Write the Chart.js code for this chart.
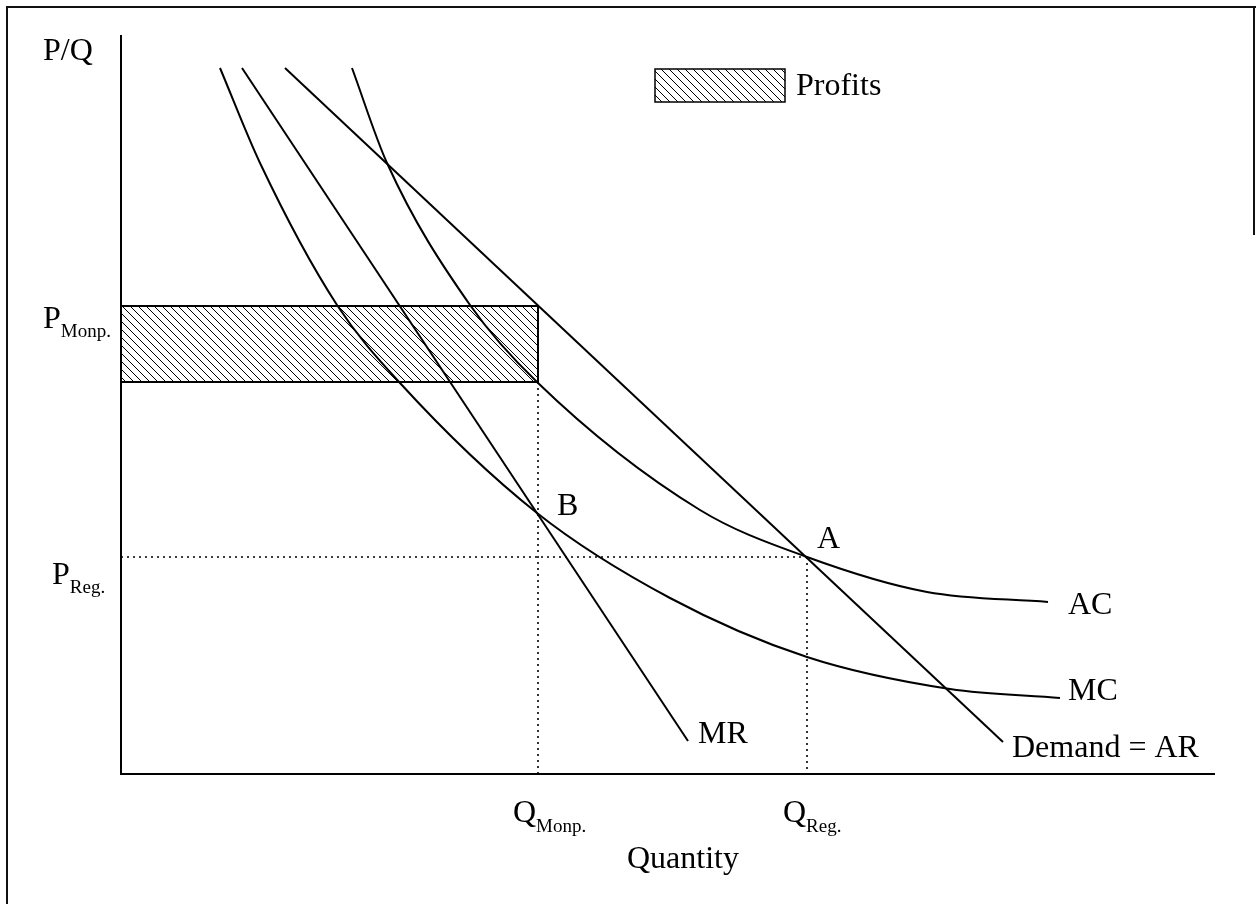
<!DOCTYPE html>
<html>
<head>
<meta charset="utf-8">
<title>Monopoly vs regulated price</title>
<script src="https://cdn.jsdelivr.net/npm/chart.js@4.4.1/dist/chart.umd.min.js"></script>
<style>
  html, body { margin: 0; padding: 0; background: #fff; }
  #wrap { width: 1256px; height: 904px; }
</style>
</head>
<body>
<div id="wrap"><canvas id="chart" width="1256" height="904"></canvas></div>
<script>
// curves (quantity, price)
const demandQ = [16.4, 88.2];
const demandP = [70.6, 3.2];
const mrQ = [12.1, 56.7];
const mrP = [70.6, 3.3];
const mcQ = [9.9, 13.9, 21.6, 27.9, 41.6, 54.9, 68.6, 82.9, 93.9];
const mcP = [70.6, 61.1, 46.9, 39.1, 26.1, 17.6, 11.7, 8.5, 7.6];
const acQ = [23.1, 26.6, 34.9, 41.6, 57.9, 68.6, 80.6, 92.7];
const acP = [70.6, 61.1, 46.9, 39.2, 26.4, 21.7, 18.2, 17.2];
// marked quantities / prices: [monopoly, regulated]
const qMarks = [41.7, 68.6];
const pMarks = [46.8, 21.7];
const acAtMonp = 39.2;

const serif = "'Liberation Serif', 'Times New Roman', serif";

function pts(qs, ps) {
    return qs.map((q, i) => ({ x: q, y: ps[i] }));
}

const canvas = document.getElementById('chart');
const ctx0 = canvas.getContext('2d');

function makeHatch() {
    const c = document.createElement('canvas');
    c.width = 8; c.height = 8;
    const g = c.getContext('2d');
    g.strokeStyle = '#000';
    g.lineWidth = 1;
    g.beginPath();
    g.moveTo(-1, -1); g.lineTo(9, 9);
    g.moveTo(-1, 7); g.lineTo(1, 9);
    g.moveTo(7, -1); g.lineTo(9, 1);
    g.stroke();
    return ctx0.createPattern(c, 'repeat');
}
const hatch = makeHatch();

function line(data, extra) {
    return Object.assign({
        data: data,
        showLine: true,
        borderColor: '#000',
        borderWidth: 2,
        pointRadius: 0,
        fill: false
    }, extra || {});
}

function sub(ctx, main, small, x, y, drop) {
    ctx.font = '32px ' + serif;
    ctx.fillText(main, x, y);
    const w = ctx.measureText(main).width;
    ctx.font = '19px ' + serif;
    ctx.fillText(small, x + w, y + drop);
}

const decor = {
    id: 'decor',
    afterDatasetsDraw(chart) {
        const ctx = chart.ctx;
        const xs = chart.scales.x, ys = chart.scales.y;
        const a = chart.chartArea;
        ctx.save();
        // page frame
        ctx.strokeStyle = '#111';
        ctx.lineWidth = 2;
        ctx.beginPath();
        ctx.moveTo(7, 904); ctx.lineTo(7, 7); ctx.lineTo(1256, 7);
        ctx.moveTo(1254, 7); ctx.lineTo(1254, 235);
        ctx.stroke();
        // axes
        ctx.strokeStyle = '#000';
        ctx.lineWidth = 2;
        ctx.beginPath();
        ctx.moveTo(xs.getPixelForValue(0), a.top);
        ctx.lineTo(xs.getPixelForValue(0), ys.getPixelForValue(0));
        ctx.lineTo(a.right, ys.getPixelForValue(0));
        ctx.stroke();

        ctx.fillStyle = '#000';
        ctx.textAlign = 'left';
        ctx.textBaseline = 'alphabetic';
        ctx.font = '32px ' + serif;
        ctx.fillText('P/Q', 43, 60);

        sub(ctx, 'P', 'Monp.', 43, ys.getPixelForValue(pMarks[0]) + 22, 9);
        sub(ctx, 'P', 'Reg.', 52, ys.getPixelForValue(pMarks[1]) + 27, 9);
        sub(ctx, 'Q', 'Monp.', xs.getPixelForValue(qMarks[0]) - 25, 822, 10);
        sub(ctx, 'Q', 'Reg.', xs.getPixelForValue(qMarks[1]) - 24, 822, 10);

        ctx.font = '32px ' + serif;
        ctx.fillText('Quantity', 627, 868);
        ctx.fillText('B', xs.getPixelForValue(qMarks[0]) + 19, 515);
        ctx.fillText('A', xs.getPixelForValue(qMarks[1]) + 10, 548);
        ctx.fillText('MR', 698, 743);
        ctx.fillText('AC', 1068, 614);
        ctx.fillText('MC', 1068, 700);
        ctx.fillText('Demand = AR', 1012, 757);

        // legend
        ctx.fillStyle = hatch;
        ctx.fillRect(655, 69, 130, 33);
        ctx.lineWidth = 1.5;
        ctx.strokeRect(655, 69, 130, 33);
        ctx.fillStyle = '#000';
        ctx.fillText('Profits', 796, 95);
        ctx.restore();
    }
};

new Chart(canvas, {
    type: 'scatter',
    data: {
        datasets: [
            line([{ x: 0, y: pMarks[0] }, { x: qMarks[0], y: pMarks[0] }],
                 { fill: { value: acAtMonp }, backgroundColor: hatch, borderWidth: 0 }),
            line([{ x: 0, y: pMarks[0] }, { x: qMarks[0], y: pMarks[0] },
                  { x: qMarks[0], y: acAtMonp }, { x: 0, y: acAtMonp }]),
            line([{ x: 0, y: pMarks[1] }, { x: qMarks[1], y: pMarks[1] }],
                 { borderWidth: 1.6, borderDash: [2, 4] }),
            line([{ x: qMarks[0], y: acAtMonp }, { x: qMarks[0], y: 0 }],
                 { borderWidth: 1.6, borderDash: [2, 4] }),
            line([{ x: qMarks[1], y: pMarks[1] }, { x: qMarks[1], y: 0 }],
                 { borderWidth: 1.6, borderDash: [2, 4] }),
            line(pts(mcQ, mcP), { cubicInterpolationMode: 'monotone' }),
            line(pts(acQ, acP), { cubicInterpolationMode: 'monotone' }),
            line(pts(demandQ, demandP)),
            line(pts(mrQ, mrP))
        ]
    },
    options: {
        responsive: false,
        animation: false,
        layout: { padding: { left: 121, right: 41, top: 35, bottom: 130 } },
        scales: {
            x: { type: 'linear', min: 0, max: 109.4, display: false },
            y: { type: 'linear', min: 0, max: 73.9, display: false }
        },
        plugins: {
            legend: { display: false },
            tooltip: { enabled: false }
        }
    },
    plugins: [decor]
});
</script>
</body>
</html>
